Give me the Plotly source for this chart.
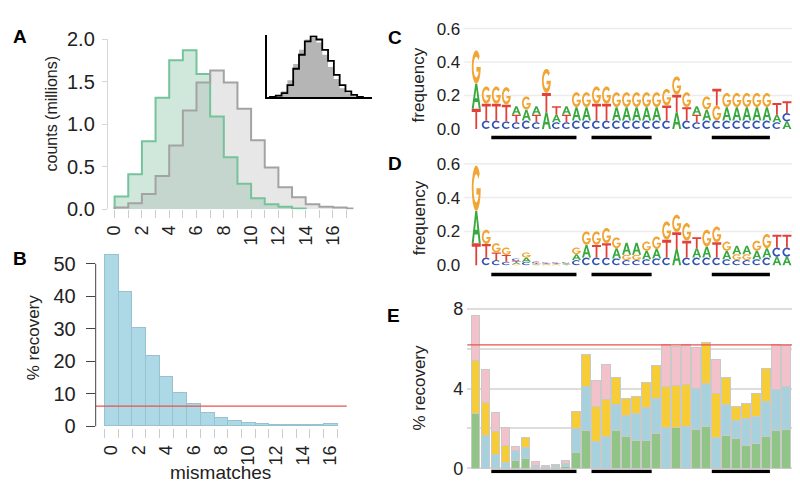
import math
import plotly.graph_objects as go

# ---------------- data ----------------
# A: read counts per mismatch bin (millions)
counts_green = [0.15, 0.41, 0.80, 1.31, 1.75, 1.87, 1.59, 1.09, 0.61, 0.30, 0.13, 0.06, 0.03, 0.01]
counts_gray = [0.02, 0.07, 0.18, 0.39, 0.75, 1.16, 1.49, 1.63, 1.49, 1.18, 0.81, 0.49, 0.26,
               0.14, 0.06, 0.03, 0.02, 0.01]
inset_black = [0.01, 0.03, 0.07, 0.20, 0.47, 0.70, 0.92, 1.00, 0.95, 0.78, 0.60, 0.37, 0.20,
               0.10, 0.04, 0.01]
inset_gray = [0.01, 0.04, 0.10, 0.28, 0.55, 0.78, 0.95, 0.98, 0.90, 0.70, 0.50, 0.30, 0.15,
              0.07, 0.02, 0.01]
a_ticks = list(range(18))

# B: % recovery by number of mismatches
mismatches = list(range(17))
recovery_pct = [52.5, 41.3, 30.2, 21.4, 15.0, 10.1, 6.7, 4.1, 2.6, 1.6, 1.0, 0.6, 0.4, 0.35,
                0.3, 0.3, 0.5]
threshold_pct = 6.2

# C / D: logo frequencies per position (A, C, G, T)
positions = list(range(1, 33))
c_A = [.15, 0, 0, 0, .05, .065, .05, .10, .045, .05, .08, .08, 0, 0, .08, .08, .08, .08, .08, 0,
       .10, 0, .05, .065, 0, .08, .08, .08, .08, .08, .045, .045]
c_C = [0, .05, .05, .045, .04, .05, .04, 0, .04, .04, .05, .05, .05, .05, .05, .05, .05, .05, .05,
       .05, 0, .05, .04, .05, .05, .05, .05, .05, .05, .05, .04, .05]
c_G = [.20, .105, .105, .105, 0, .08, 0, .145, 0, 0, .09, .09, .105, .105, .09, .09, .09, .09, .09,
       .10, .11, .09, 0, .08, .09, .085, .085, .085, .085, .085, 0, 0]
c_T = [.12, .10, .10, .10, .045, 0, .045, .115, .05, .045, 0, 0, .10, .10, 0, 0, 0, 0, 0, .09,
       .105, .08, .045, 0, .10, 0, 0, 0, 0, 0, .07, .07]

d_A = [.19, 0, 0, 0, .008, .025, .004, .003, .003, .004, .035, .075, 0, 0, .06, .07, .07, .05,
       .055, 0, .095, 0, .055, .065, 0, .05, .05, .05, .05, .055, .05, .05]
d_C = [0, .045, .03, .02, .015, .02, .008, .006, .006, .007, .03, .045, .045, .045, .04, .03, .03,
       .035, .04, .045, 0, .045, .045, .045, .045, .035, .03, .03, .035, .045, .055, .055]
d_G = [.27, .085, .055, .045, .006, .03, .003, .004, .003, .004, .04, .08, .08, .09, .065, .032,
       .032, .055, .075, .11, .105, .105, 0, .10, .095, .055, .035, .035, .06, .085, 0, 0]
d_T = [.13, .08, .045, .04, .01, 0, .006, .004, .005, .003, 0, 0, .075, .085, 0, 0, 0, 0, 0, .105,
       .10, .10, .065, 0, .09, 0, 0, 0, 0, 0, .075, .075]

# E: % recovery per position, split by substituted base
e_green = [2.75, 0, 0, 0, 0.40, 0.50, 0.05, 0.04, 0.04, 0.10, 0.80, 1.89, 0, 0, 1.87, 1.58, 1.36,
           1.36, 1.73, 0, 2.04, 0, 1.95, 2.06, 0, 1.65, 1.49, 1.12, 1.22, 1.60, 1.89, 1.94]
e_blue = [0, 1.62, 0.66, 0.27, 0.48, 0.52, 0.08, 0, 0.08, 0.15, 1.20, 2.22, 1.31, 1.58, 1.30, 1.07,
          1.36, 1.68, 1.74, 2.03, 0, 2.08, 2.02, 2.18, 1.55, 1.52, 0.91, 1.36, 1.39, 1.76, 2.03, 2.14]
e_yellow = [2.66, 1.68, 1.16, 0.85, 0, 0.50, 0, 0.05, 0, 0, 0.83, 1.57, 1.79, 1.86, 1.37, 0.85,
            0.85, 1.23, 1.70, 2.05, 2.12, 2.12, 0, 2.08, 2.21, 1.39, 0.67, 0.75, 1.15, 1.65, 0, 0]
e_pink = [2.27, 1.66, 0.96, 0.93, 0.19, 0, 0.19, 0.03, 0.06, 0.12, 0, 0, 1.30, 1.76, 0, 0, 0, 0, 0,
          2.12, 1.94, 2.02, 2.08, 0, 1.68, 0, 0, 0, 0, 0, 2.28, 2.08]

underline_start = [2.5, 12.5, 24.5]
underline_end = [11.0, 18.5, 30.3]

# ---------------- helpers ----------------
W, H = 800, 500
FONT = "Liberation Sans"
TXT = "#222222"


def dx(a, b):
    return [a / W, b / W]


def dy(top, bottom):
    return [1 - bottom / H, 1 - top / H]


def step_xy(vals):
    edges = list(range(len(vals) + 1))
    return [0] + edges + [edges[-1]], [0] + vals + [vals[-1], 0]


def arc(rx, ry, a0, a1, n=16):
    return [(0.5 + rx * math.cos(math.radians(a0 + (a1 - a0) * k / n)),
             0.5 + ry * math.sin(math.radians(a0 + (a1 - a0) * k / n))) for k in range(n + 1)]


GLYPHS = {
    "A": [[(0, 0), (0.22, 0), (0.32, 0.27), (0.68, 0.27), (0.78, 0), (1, 0), (0.61, 1), (0.39, 1)],
          [(0.38, 0.42), (0.5, 0.78), (0.62, 0.42)]],
    "T": [[(0, 1), (0, 0.84), (0.4, 0.84), (0.4, 0), (0.6, 0), (0.6, 0.84), (1, 0.84), (1, 1)]],
    "C": [arc(0.5, 0.5, 40, 320) + arc(0.3, 0.31, 320, 40)],
    "G": [arc(0.5, 0.5, 40, 360) + [(0.52, 0.5), (0.52, 0.36)] + arc(0.3, 0.31, 334, 40)],
}
LETTER_COLORS = {"A": "#3aa840", "C": "#3253b3", "G": "#f1a535", "T": "#e2403a"}


def glyph_path(letter, xc, y0, h, w=0.9):
    out = ""
    for poly in GLYPHS[letter]:
        pts = ["%.4f,%.5f" % (xc - w / 2 + w * u, y0 + h * v) for u, v in poly]
        out += "M" + "L".join(pts) + "Z"
    return out


def logo_shapes(freqs, xref, yref):
    shapes = []
    for i, p in enumerate(positions):
        col = sorted(((freqs[b][i], b) for b in "ACGT"), key=lambda t: t[0])
        y0 = 0.0
        for h, b in col:
            if h <= 0:
                continue
            shapes.append(dict(type="path", path=glyph_path(b, p, y0, h), xref=xref, yref=yref,
                               fillcolor=LETTER_COLORS[b], line=dict(width=0), layer="above"))
            y0 += h
    return shapes


fig = go.Figure()

# ---------------- A ----------------
gx, gy = step_xy(counts_green)
sx, sy = step_xy(counts_gray)
fig.add_trace(go.Scatter(x=gx, y=gy, mode="lines", line_shape="hv", line_width=0, fill="tozeroy",
                         fillcolor="rgba(120,190,155,0.35)", xaxis="x", yaxis="y", hoverinfo="skip"))
fig.add_trace(go.Scatter(x=sx, y=sy, mode="lines", line_shape="hv", line_width=0, fill="tozeroy",
                         fillcolor="rgba(160,160,160,0.25)", xaxis="x", yaxis="y", hoverinfo="skip"))
fig.add_trace(go.Scatter(x=gx, y=gy, mode="lines", line_shape="hv", line=dict(color="#74c39b", width=2),
                         xaxis="x", yaxis="y"))
fig.add_trace(go.Scatter(x=sx, y=sy, mode="lines", line_shape="hv", line=dict(color="#a3a3a3", width=2),
                         xaxis="x", yaxis="y"))

# inset
ix, iy = step_xy(inset_gray)
bx, by = step_xy(inset_black)
fig.add_trace(go.Scatter(x=ix, y=iy, mode="lines", line_shape="hv", line_width=0, fill="tozeroy",
                         fillcolor="#b5b5b5", xaxis="x6", yaxis="y6"))
fig.add_trace(go.Scatter(x=bx, y=by, mode="lines", line_shape="hv", line=dict(color="black", width=1.8),
                         xaxis="x6", yaxis="y6"))

# ---------------- B ----------------
fig.add_trace(go.Bar(x=mismatches, y=recovery_pct, width=1, marker_color="#add8e6",
                     marker_line_color="#98c2d0", marker_line_width=1, xaxis="x2", yaxis="y2"))

# ---------------- E ----------------
for vals, colr in [(e_green, "#90c587"), (e_blue, "#a8d1de"), (e_yellow, "#f6cd36"), (e_pink, "#f3c1c9")]:
    fig.add_trace(go.Bar(x=positions, y=[v if v > 0 else None for v in vals], width=0.86,
                         marker_color=colr, marker_line_color="#c9c9c9", marker_line_width=1,
                         xaxis="x5", yaxis="y5"))

# ---------------- shapes ----------------
shapes = []
shapes += logo_shapes({"A": c_A, "C": c_C, "G": c_G, "T": c_T}, "x3", "y3")
shapes += logo_shapes({"A": d_A, "C": d_C, "G": d_G, "T": d_T}, "x4", "y4")
for yr, xr in [("y3", "x3"), ("y4", "x4")]:
    for g in [0.2, 0.4, 0.6]:
        shapes.append(dict(type="line", xref=xr + " domain", x0=0, x1=1, yref=yr, y0=g, y1=g,
                           line=dict(color="#ececec", width=1.5), layer="below"))
for xr, yr, yl in [("x3", "y3", -0.051), ("x4", "y4", -0.055), ("x5", "y5", -0.16)]:
    for s, e in zip(underline_start, underline_end):
        shapes.append(dict(type="line", xref=xr, yref=yr, x0=s, x1=e, y0=yl, y1=yl,
                           line=dict(color="black", width=3.5)))
shapes.append(dict(type="line", xref="x2 domain", x0=0, x1=1, yref="y2", y0=threshold_pct,
                   y1=threshold_pct, line=dict(color="#e8534f", width=1.2)))
shapes.append(dict(type="line", xref="x5 domain", x0=0, x1=1, yref="y5", y0=threshold_pct,
                   y1=threshold_pct, line=dict(color="#e8534f", width=1.2)))
shapes.append(dict(type="line", xref="paper", x0=85 / W, x1=85 / W, yref="y2", y0=0, y1=50,
                   line=dict(color="#444444", width=1)))

# ---------------- annotations ----------------
ann = []


def label(text, x, y, size, angle=0, bold=False):
    ann.append(dict(text="<b>%s</b>" % text if bold else text, x=x / W, y=1 - y / H, xref="paper",
                    yref="paper", showarrow=False, textangle=angle, xanchor="center", yanchor="middle",
                    font=dict(size=size, color="black" if bold else TXT, family=FONT)))


label("A", 9, 18, 19, bold=True)
label("B", 9, 251, 19, bold=True)
label("C", 385, 19, 19, bold=True)
label("D", 385, 151, 19, bold=True)
label("E", 384, 310, 19, bold=True)
label("counts (millions)", 41, 99, 16, angle=-90)
label("% recovery", 22, 333, 17, angle=-90)
label("mismatches", 210, 474, 19)
label("frequency", 410, 69, 17, angle=-90)
label("frequency", 410, 208, 17, angle=-90)
label("% recovery", 410, 385, 17, angle=-90)

tf = lambda s: dict(size=s, color=TXT, family=FONT)
hidden = dict(showticklabels=False, ticks="", showgrid=False, zeroline=False, showline=False)

fig.update_layout(
    width=W, height=H, margin=dict(l=0, r=0, t=0, b=0), showlegend=False,
    plot_bgcolor="white", paper_bgcolor="white", barmode="stack", bargap=0,
    font=dict(family=FONT, color=TXT),
    shapes=shapes, annotations=ann,
    xaxis=dict(domain=dx(97.15, 343.75), range=[-0.5, 17.5], anchor="y", tickmode="array",
               tickvals=a_ticks, ticktext=[str(t) if t % 2 == 0 and t < 17 else "" for t in a_ticks],
               tickangle=-90, ticks="outside", ticklen=8, tickcolor="#cccccc", tickfont=tf(18),
               showgrid=False, zeroline=False, showline=False),
    yaxis=dict(domain=dy(21, 199), range=[0, 2.0], anchor="x", tickmode="array",
               tickvals=[0, 0.5, 1, 1.5, 2], ticktext=["0.0", "0.5", "1.0", "1.5", "2.0"],
               ticks="outside", ticklen=5, tickcolor="#d6d6d6", showline=True, linecolor="#d6d6d6",
               tickfont=tf(20), showgrid=False, zeroline=False, ticklabelstandoff=3),
    xaxis2=dict(domain=dx(85, 337), range=[-1.165, 17.19], anchor="y2", tickmode="array",
                tickvals=list(range(0, 17, 2)), tickangle=-90, ticks="outside", ticklen=9,
                tickcolor="rgba(0,0,0,0)", tickfont=tf(18), showgrid=False, zeroline=False,
                minor=dict(tickmode="array", tickvals=[k - 0.5 for k in range(18)], ticks="outside",
                           ticklen=9, tickcolor="#cccccc")),
    yaxis2=dict(domain=dy(244, 428), range=[-0.588, 53.53], anchor="x2", tickmode="array",
                tickvals=list(range(0, 51, 10)), ticks="outside", ticklen=9, tickcolor="#444444",
                tickfont=tf(20), showgrid=False, zeroline=False, showline=False, ticklabelstandoff=6),
    xaxis3=dict(domain=dx(455, 785), range=[-0.193, 32.61], anchor="y3", **hidden),
    yaxis3=dict(domain=dy(6.5, 127.25), range=[-0.07, 0.62], anchor="x3", tickmode="array",
                tickvals=[0, 0.2, 0.4, 0.6], ticktext=["0.0", "0.2", "0.4", "0.6"], ticks="",
                tickfont=tf(17), showgrid=False, zeroline=False, ticklabelstandoff=3),
    xaxis4=dict(domain=dx(455, 785), range=[-0.193, 32.61], anchor="y4", **hidden),
    yaxis4=dict(domain=dy(147.95, 269.87), range=[-0.07, 0.62], anchor="x4", tickmode="array",
                tickvals=[0, 0.2, 0.4, 0.6], ticktext=["0.0", "0.2", "0.4", "0.6"], ticks="",
                tickfont=tf(17), showgrid=False, zeroline=False, ticklabelstandoff=3),
    xaxis5=dict(domain=dx(458, 797), range=[0.105, 33.80], anchor="y5", **hidden),
    yaxis5=dict(domain=dy(300, 475.2), range=[-0.25, 8.16], anchor="x5", tickmode="array",
                tickvals=[0, 2, 4, 6, 8], ticktext=["0", "", "4", "", "8"], ticks="",
                tickfont=tf(18), showgrid=True, gridcolor="#dddddd", gridwidth=1.5, zeroline=False,
                ticklabelstandoff=3),
    xaxis6=dict(domain=dx(257, 362), range=[-0.5, 17.5], anchor="y6", showline=True, linecolor="black",
                linewidth=1.5, showticklabels=False, ticks="", showgrid=False, zeroline=False),
    yaxis6=dict(domain=dy(17, 82), range=[0, 1.02], anchor="x6", showline=True, linecolor="black",
                linewidth=1.5, showticklabels=False, ticks="", showgrid=False, zeroline=False),
)

fig.write_html("out.html")
